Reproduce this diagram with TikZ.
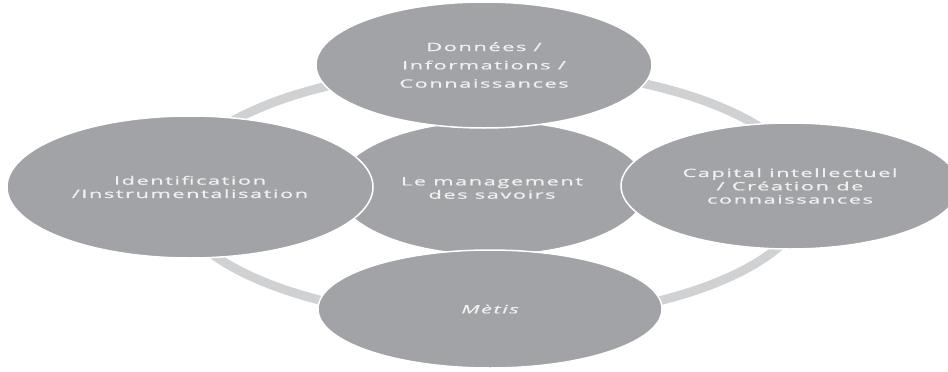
\documentclass[tikz,border=0pt]{standalone}
\usepackage{fontspec}
\usepackage{graphicx}
\setmainfont{Open Sans}
\newfontfamily\lblfont[LetterSpace=7, FakeBold=0.6]{Open Sans}
\newcommand\wl[1]{\scalebox{1.9}[1]{#1}}
\usetikzlibrary{shapes.geometric}
\definecolor{bubble}{RGB}{162,163,167}
\definecolor{ringc}{RGB}{208,209,211}
\definecolor{lbl}{RGB}{240,240,240}
\tikzset{
  bub/.style={ellipse, fill=bubble, draw=white, line width=1.5pt, inner sep=0pt,
    align=center, text=lbl, font=\lblfont\fontsize{11.5}{13.3}\selectfont},
}
\begin{document}
\begin{tikzpicture}[x=1pt,y=-1pt]
\useasboundingbox (0,0) rectangle (948,372);
\clip (0,0) rectangle (948,372);
\coordinate (ringc) at (491,194);
\draw[ringc, line width=9pt] (ringc) ellipse [x radius=317pt, y radius=126pt];
\node[bub, minimum width=310pt, minimum height=134pt] (center) at (492,188) {\wl{Le management}\\\wl{des savoirs}};
\node[bub, minimum width=336pt, minimum height=126pt] (top) at (484,65) {\wl{Données /}\\[5pt]\wl{Informations /}\\[5pt]\wl{Connaissances}};
\node[bub, minimum width=366pt, minimum height=142pt] (left) at (190,187) {\wl{Identification}\\\wl{/Instrumentalisation}};
\node[bub, minimum width=338pt, minimum height=126pt] (right) at (790,186) {\wl{Capital intellectuel}\\\wl{/ Création de}\\\wl{connaissances}};
\node[bub, minimum width=344pt, minimum height=118pt] (bottom) at (490,309) {\wl{\itshape Mètis}};
\end{tikzpicture}
\end{document}
